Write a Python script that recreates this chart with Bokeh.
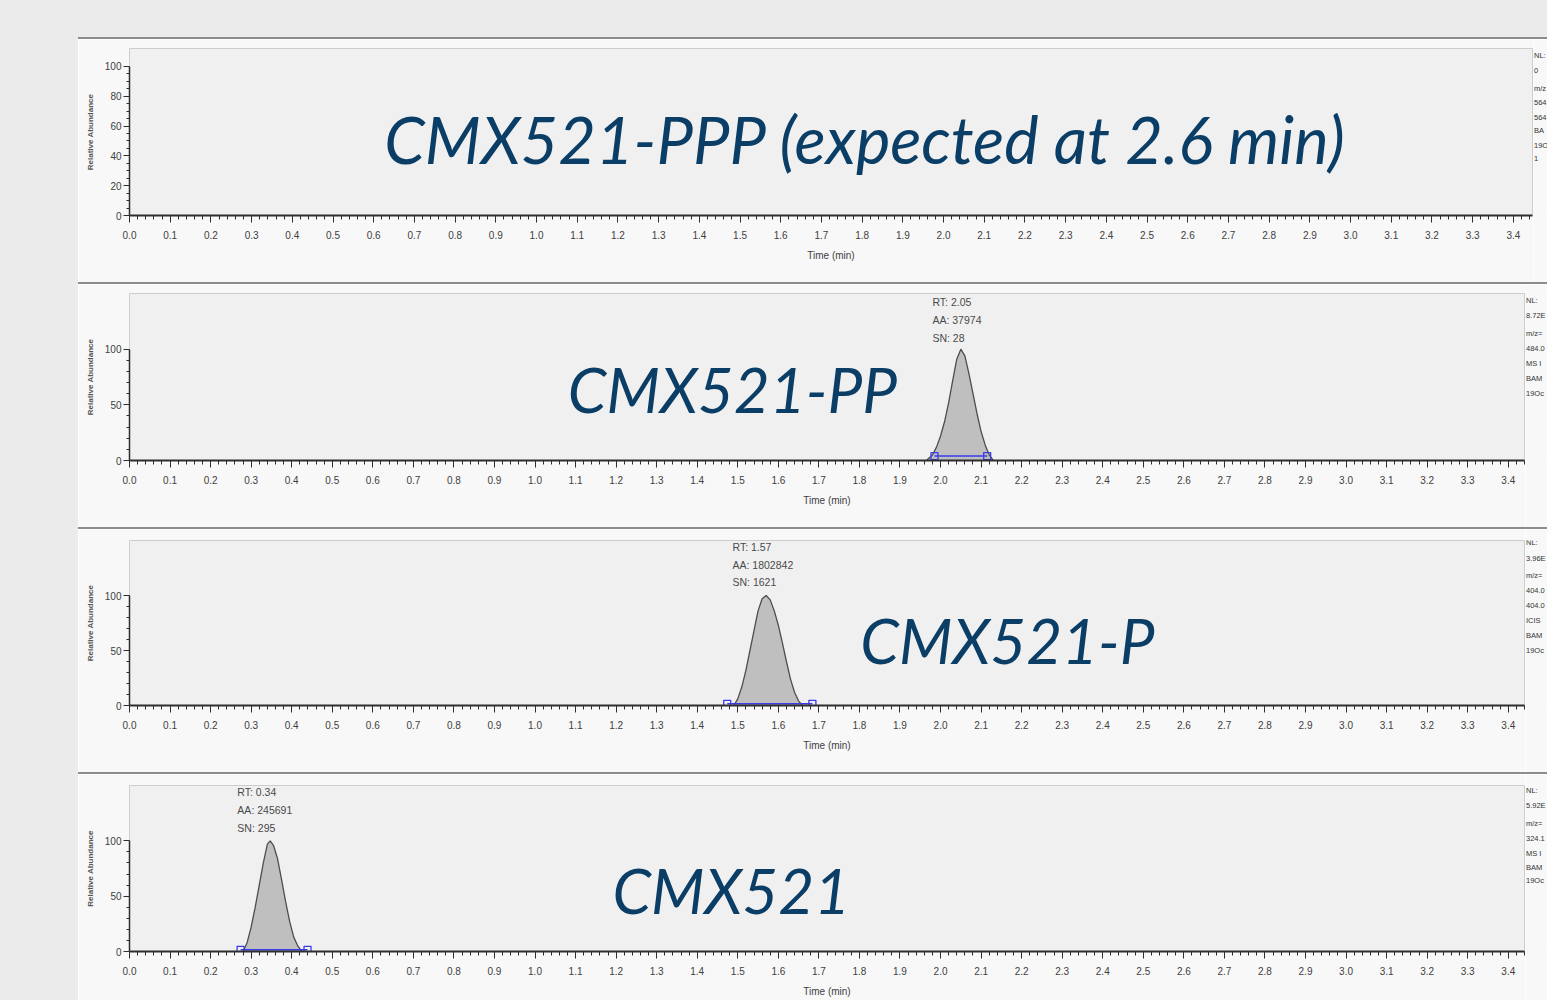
from bokeh.plotting import figure
from bokeh.layouts import row, column
from bokeh.models import FixedTicker, Label, Range1d, PrintfTickFormatter, Div
from bokeh.embed import file_html
from bokeh.resources import INLINE

# ---------------- data ----------------
x_major_ticks = [0.0, 0.1, 0.2, 0.3, 0.4, 0.5, 0.6, 0.7, 0.8, 0.9, 1.0, 1.1, 1.2, 1.3, 1.4, 1.5, 1.6,
                 1.7, 1.8, 1.9, 2.0, 2.1, 2.2, 2.3, 2.4, 2.5, 2.6, 2.7, 2.8, 2.9, 3.0, 3.1, 3.2, 3.3, 3.4]
x_minor_ticks = [round(i * 0.02, 2) for i in range(0, 173)]

ppp_y_ticks = [0, 20, 40, 60, 80, 100]
ppp_y_minor = [5, 10, 15, 25, 30, 35, 45, 50, 55, 65, 70, 75, 85, 90, 95]
y_ticks = [0, 50, 100]
y_minor = [10, 20, 30, 40, 60, 70, 80, 90]

titles = ["CMX521-PPP (expected at 2.6 min)", "CMX521-PP", "CMX521-P", "CMX521"]

# CMX521-PPP trace: nothing detected (NL: 0)
ppp_time = [0.0, 3.44]
ppp_abund = [0, 0]
ppp_side = ["NL:", "0", "m/z", "564", "564", "BA", "19O", "1"]

# CMX521-PP peak
pp_time = [1.965, 1.980, 1.990, 2.000, 2.010, 2.020, 2.030, 2.040, 2.050, 2.060, 2.070, 2.080,
           2.090, 2.100, 2.110, 2.120, 2.130]
pp_abund = [0, 5, 12, 22, 35, 52, 72, 91, 100, 94, 78, 60, 42, 26, 14, 5, 0]
pp_base_time = [1.985, 2.115]
pp_base_level = [4, 4]
pp_info = ["RT: 2.05", "AA: 37974", "SN: 28"]
pp_side = ["NL:", "8.72E", "m/z=", "484.0", "MS I", "BAM", "19Oc"]

# CMX521-P peak
p_time = [1.490, 1.500, 1.510, 1.520, 1.530, 1.540, 1.550, 1.560, 1.570, 1.580, 1.590, 1.600,
          1.610, 1.620, 1.630, 1.640, 1.650, 1.660]
p_abund = [0, 6, 17, 32, 50, 68, 86, 97, 100, 96, 86, 73, 57, 40, 24, 12, 4, 0]
p_base_time = [1.474, 1.684]
p_base_level = [1.5, 1.5]
p_info = ["RT: 1.57", "AA: 1802842", "SN: 1621"]
p_side = ["NL:", "3.96E", "m/z=", "404.0", "404.0", "ICIS", "BAM", "19Oc"]

# CMX521 (parent) peak
c_time = [0.280, 0.290, 0.300, 0.310, 0.320, 0.330, 0.340, 0.347, 0.355, 0.365, 0.375, 0.385,
          0.395, 0.405, 0.415, 0.425]
c_abund = [0, 8, 22, 40, 60, 80, 97, 100, 96, 84, 65, 45, 27, 13, 5, 0]
c_base_time = [0.274, 0.439]
c_base_level = [1.5, 1.5]
c_info = ["RT: 0.34", "AA: 245691", "SN: 295"]
c_side = ["NL:", "5.92E", "m/z=", "324.1", "MS I", "BAM", "19Oc"]

# ---------------- style ----------------
BG = "#ebebeb"
PANEL = "#f8f8f8"
PLOT = "#f0f0f0"
BLUE_TXT = "#0b3e66"
AX = "#2e2e2e"
SEP = "#8c8c8c"
SMALL_FONT = "Liberation Sans"
BIG_FONT = "Lato"
W_LEFT = 78
W_PANEL = 1547 - W_LEFT


def box(w, h, color):
    return Div(width=w, height=h, margin=0,
               styles={"background-color": color, "width": f"{w}px", "height": f"{h}px"})


def side_fig(width, height, frame_top, frame_bottom, page_ys, texts):
    # the frame of this small figure is aligned with the chromatogram frame next to it,
    # so its y range is expressed in page pixels of that frame
    f = figure(width=width, height=height, toolbar_location=None, output_backend="svg",
               x_axis_type=None, y_axis_type=None, min_border=0,
               x_range=Range1d(0, width), y_range=Range1d(frame_bottom, frame_top))
    f.border_fill_color = PANEL
    f.background_fill_color = PANEL
    f.outline_line_color = None
    f.xgrid.visible = False
    f.ygrid.visible = False
    for py, txt in zip(page_ys, texts):
        f.add_layout(Label(x=0.5, y=py, text=txt, text_font=SMALL_FONT,
                           text_font_size="7.5px", text_color="#333333",
                           text_align="left", text_baseline="middle"))
    return f


def panel(width, height, top, bottom, ymax, xmax, ymaj, ymin):
    p = figure(width=width, height=height, toolbar_location=None, output_backend="svg",
               x_range=Range1d(0, xmax), y_range=Range1d(0, ymax),
               min_border_left=51, min_border_right=1,
               min_border_top=top, min_border_bottom=bottom)
    p.border_fill_color = PANEL
    p.background_fill_color = PLOT
    p.outline_line_color = "#cdcdcd"
    p.xgrid.visible = False
    p.ygrid.visible = False
    xa = p.xaxis[0]
    xa.ticker = FixedTicker(ticks=x_major_ticks, minor_ticks=x_minor_ticks)
    xa.formatter = PrintfTickFormatter(format="%.1f")
    xa.axis_label = "Time (min)"
    xa.axis_label_text_font = SMALL_FONT
    xa.axis_label_text_font_size = "10px"
    xa.axis_label_text_font_style = "normal"
    xa.axis_label_text_color = "#404040"
    xa.axis_label_standoff = 8
    xa.major_label_text_font = SMALL_FONT
    xa.major_label_text_font_size = "10px"
    xa.major_label_text_color = "#404040"
    xa.major_label_standoff = 8
    xa.axis_line_color = AX
    xa.axis_line_width = 2
    xa.major_tick_in = 0
    xa.major_tick_out = 7
    xa.minor_tick_in = 0
    xa.minor_tick_out = 4
    xa.major_tick_line_color = AX
    xa.minor_tick_line_color = AX

    ya = p.yaxis[0]
    ya.ticker = FixedTicker(ticks=ymaj, minor_ticks=ymin)
    ya.bounds = (0, 100)
    ya.axis_label = "Relative Abundance"
    ya.axis_label_text_font = SMALL_FONT
    ya.axis_label_text_font_size = "8px"
    ya.axis_label_text_font_style = "bold"
    ya.axis_label_text_color = "#555555"
    ya.axis_label_standoff = 7
    ya.major_label_text_font = SMALL_FONT
    ya.major_label_text_font_size = "10px"
    ya.major_label_text_color = "#404040"
    ya.major_label_standoff = 2
    ya.axis_line_color = AX
    ya.axis_line_width = 1.5
    ya.major_tick_in = 0
    ya.major_tick_out = 6
    ya.minor_tick_in = 0
    ya.minor_tick_out = 3
    ya.major_tick_line_color = AX
    ya.minor_tick_line_color = AX
    return p


def add_peak(p, t, a, bt, bl):
    p.varea(x=t, y1=[0] * len(t), y2=a, fill_color="#bfbfbf")
    p.line(x=t, y=a, line_color="#4d4d4d", line_width=1.3)
    p.line(x=bt, y=bl, line_color="#3b3bea", line_width=1.5)
    p.scatter(x=bt, y=bl, marker="square", size=7, fill_color=None,
              line_color="#3b3bea", line_width=1.3)


def add_info(p, x, ys, texts):
    for yv, txt in zip(ys, texts):
        p.add_layout(Label(x=x, y=yv, text=txt, text_font=SMALL_FONT, text_font_size="10.5px",
                           text_color="#4a4a4a", text_align="left", text_baseline="middle"))


def add_title(p, x, y, txt, size="62px"):
    p.add_layout(Label(x=x, y=y, text=txt, text_font=BIG_FONT, text_font_size=size,
                       text_font_style="italic", text_color=BLUE_TXT,
                       text_align="center", text_baseline="alphabetic"))


# ---------------- panels ----------------
W1 = 1455            # first chromatogram (frame ends further right)
W2 = 1447            # other chromatograms

p1 = panel(W1, 243, 9, 67, 112, 3.447, ppp_y_ticks, ppp_y_minor)
p1.line(x=ppp_time, y=ppp_abund, line_color="#4d4d4d", line_width=1)
add_title(p1, 1.808, 51, titles[0], size="65px")
s1 = side_fig(W_PANEL - W1, 243, 48, 215, [55, 70, 88, 102, 117, 130, 145, 158], ppp_side)

p2 = panel(W2, 243, 9, 67, 150, 3.44, y_ticks, y_minor)
add_peak(p2, pp_time, pp_abund, pp_base_time, pp_base_level)
add_title(p2, 1.487, 64.5, titles[1])
add_info(p2, 1.98, [142, 126, 110], pp_info)
s2 = side_fig(W_PANEL - W2, 243, 293, 460, [300, 315, 333, 348, 363, 378, 393], pp_side)

p3 = panel(W2, 243, 11, 67, 150, 3.44, y_ticks, y_minor)
add_peak(p3, p_time, p_abund, p_base_time, p_base_level)
add_title(p3, 2.165, 60, titles[2])
add_info(p3, 1.487, [144.5, 128, 112], p_info)
s3 = side_fig(W_PANEL - W2, 243, 540, 705, [542, 558, 575, 590, 605, 620, 635, 650], p_side)

p4 = panel(W2, 226, 11, 49, 150, 3.44, y_ticks, y_minor)
add_peak(p4, c_time, c_abund, c_base_time, c_base_level)
add_title(p4, 1.484, 56, titles[3])
add_info(p4, 0.266, [144.5, 128, 112], c_info)
s4 = side_fig(W_PANEL - W2, 226, 785, 951, [790, 805, 823, 838, 853, 867, 880], c_side)

right_col = column(box(W_PANEL, 37, BG), box(W_PANEL, 2, SEP),
                   row(p1, s1, spacing=0), box(W_PANEL, 2, SEP),
                   row(p2, s2, spacing=0), box(W_PANEL, 2, SEP),
                   row(p3, s3, spacing=0), box(W_PANEL, 2, SEP),
                   row(p4, s4, spacing=0), spacing=0)
layout = row(box(W_LEFT, 1000, BG), right_col, spacing=0)

open("out.html", "w").write(file_html(layout, INLINE))
